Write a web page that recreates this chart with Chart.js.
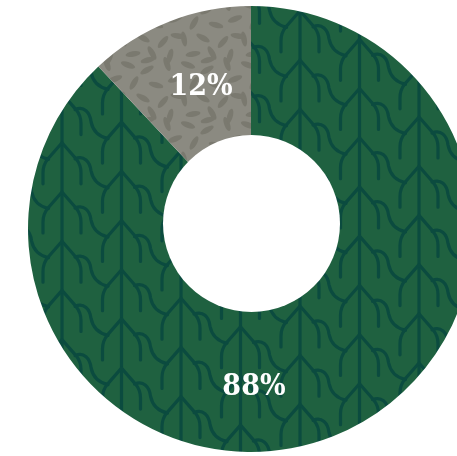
<!DOCTYPE html>
<html>
<head>
<meta charset="utf-8">
<script src="https://cdn.jsdelivr.net/npm/chart.js@4"></script>
<style>
  html, body { margin: 0; padding: 0; background: #fff; overflow: hidden; }
  #wrap { position: absolute; left: 0; top: 0; width: 502px; height: 458px; }
</style>
</head>
<body>
<div id="wrap"><canvas id="chart"></canvas></div>
<script>
// datos
const categories = ['Bosque', 'Otros'];
const shares = [88, 12];
const shareLabels = ['88%', '12%'];

// hojas del patrón gris: x, y, ángulo (tile 60x60)
const leaves = [
  [8, 5, 20], [27, 10, -30], [47, 4, 70], [14, 23, -60], [36, 25, 15],
  [55, 19, -20], [4, 39, 80], [23, 38, 30], [43, 42, -50], [58, 36, 10],
  [13, 54, -10], [32, 53, 60], [50, 56, -75], [28, 0, -15]
];

function treeCanvas(w, h) {
  const c = document.createElement('canvas');
  c.width = w; c.height = h;
  const g = c.getContext('2d');
  g.fillStyle = '#1f6140';
  g.fillRect(0, 0, w, h);
  g.strokeStyle = '#0b4b3f';
  g.lineWidth = 3.2;
  g.lineCap = 'round';
  g.lineJoin = 'round';
  const colW = 59.5, rowH = 49.2, shift = -20.7, x0 = 62, y0 = 192;
  for (let i = -2; x0 + i * colW < w + colW; i++) {
    const x = x0 + i * colW;
    g.beginPath(); g.moveTo(x, 0); g.lineTo(x, h); g.stroke();
    let start = y0 + i * shift;
    start -= Math.ceil((start + 60) / rowH) * rowH;
    for (let y = start; y < h + rowH; y += rowH) {
      g.beginPath();
      [-1, 1].forEach(d => {
        g.moveTo(x, y);
        g.lineTo(x + 14 * d, y + 16);
        g.quadraticCurveTo(x + 19 * d, y + 22, x + 19 * d, y + 30);
        g.lineTo(x + 19 * d, y + 41);
      });
      g.moveTo(x + 13, y + 16);
      g.bezierCurveTo(x + 22, y + 12, x + 28, y + 19, x + 29, y + 28);
      g.bezierCurveTo(x + 31, y + 38, x + 37, y + 43, x + 46, y + 45);
      g.stroke();
    }
  }
  return c;
}

function leafCanvas() {
  const c = document.createElement('canvas');
  c.width = 60; c.height = 60;
  const g = c.getContext('2d');
  g.fillStyle = '#8b8a81';
  g.fillRect(0, 0, 60, 60);
  g.fillStyle = '#7a796f';
  leaves.forEach(([x, y, a]) => {
    for (let dx = -60; dx <= 60; dx += 60) {
      for (let dy = -60; dy <= 60; dy += 60) {
        g.beginPath();
        g.ellipse(x + dx, y + dy, 7.5, 2.8, a * Math.PI / 180, 0, Math.PI * 2);
        g.fill();
      }
    }
  });
  return c;
}

const canvas = document.getElementById('chart');
const ctx = canvas.getContext('2d');
const greenFill = ctx.createPattern(treeCanvas(502, 458), 'no-repeat');
const grayFill = ctx.createPattern(leafCanvas(), 'repeat');

// agujero central (un poco más arriba que el centro) + etiquetas
const ringLabels = {
  id: 'ringLabels',
  afterDatasetsDraw(chart, args, opts) {
    const meta = chart.getDatasetMeta(0);
    const c = chart.ctx;
    const cx = meta.data[0].x, cy = meta.data[0].y;
    c.save();
    c.fillStyle = '#ffffff';
    c.beginPath();
    c.arc(cx + opts.hole.dx, cy + opts.hole.dy, opts.hole.r, 0, Math.PI * 2);
    c.fill();
    c.font = opts.font;
    c.fillStyle = opts.color;
    c.textAlign = 'center';
    c.textBaseline = 'middle';
    meta.data.forEach((arc, i) => {
      const a = opts.angles[i], r = opts.radii[i];
      c.fillText(shareLabels[i], cx + Math.cos(a) * r, cy + Math.sin(a) * r);
    });
    c.restore();
  }
};

new Chart(ctx, {
  type: 'pie',
  data: {
    labels: categories,
    datasets: [{
      data: shares,
      backgroundColor: [greenFill, grayFill],
      borderWidth: 0,
      hoverOffset: 0
    }]
  },
  options: {
    responsive: true,
    maintainAspectRatio: false,
    animation: false,
    events: [],
    layout: { padding: { top: 6, bottom: 6, left: 28, right: 28 } },
    plugins: {
      legend: { display: false },
      tooltip: { enabled: false },
      ringLabels: {
        font: 'bold 30px "DejaVu Serif Condensed", "DejaVu Serif", serif',
        color: '#ffffff',
        hole: { dx: 0.5, dy: -5.5, r: 88.5 },
        angles: [1.552, -1.909],
        radii: [158, 150.5]
      }
    }
  },
  plugins: [ringLabels]
});
</script>
</body>
</html>
